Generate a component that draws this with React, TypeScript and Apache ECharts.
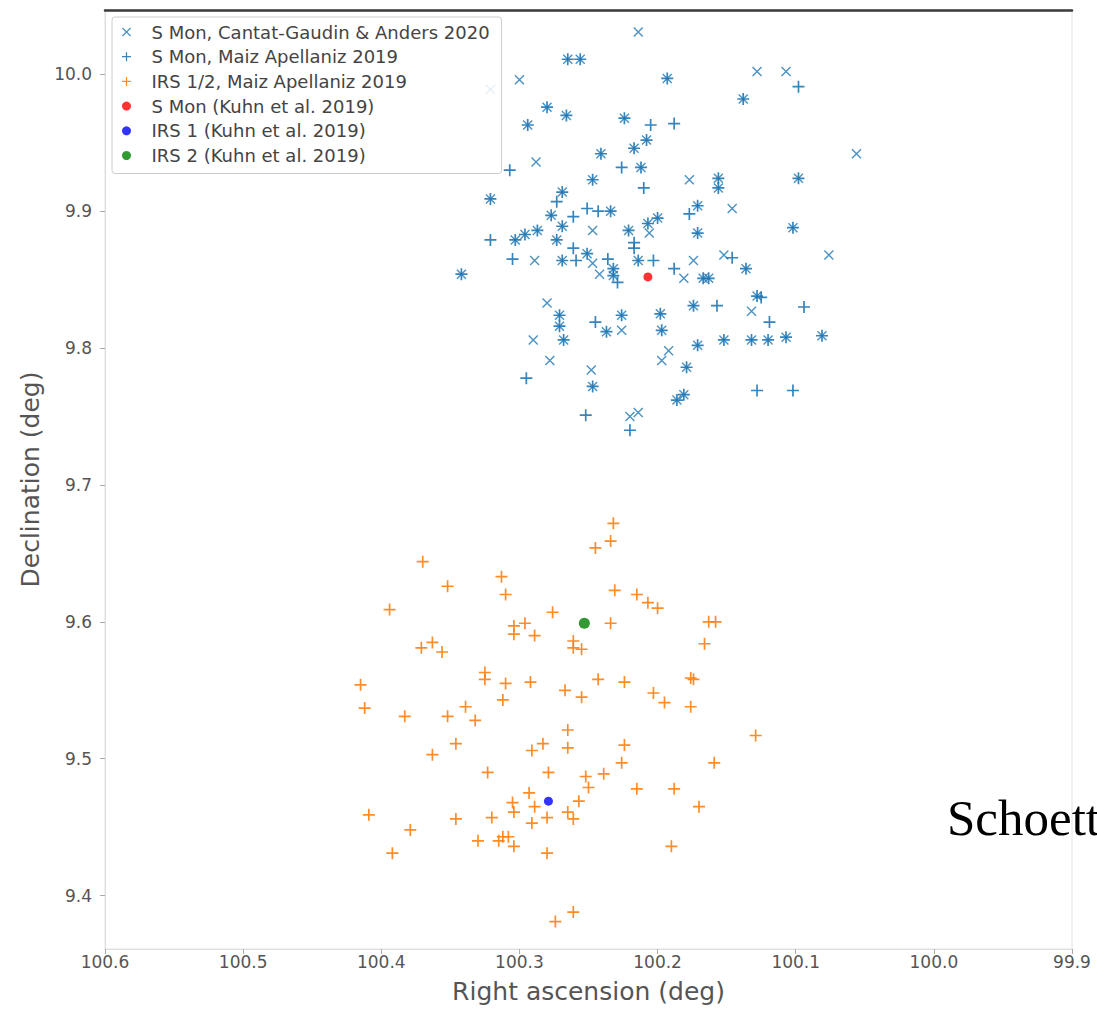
import React, { useEffect, useRef } from "react";
import * as echarts from "echarts";

const xTicks = [100.6, 100.5, 100.4, 100.3, 100.2, 100.1, 100.0, 99.9];
const yTicks = [9.4, 9.5, 9.6, 9.7, 9.8, 9.9, 10.0];

const seriesNames = [
  "S Mon, Cantat-Gaudin & Anders 2020",
  "S Mon, Maiz Apellaniz 2019",
  "IRS 1/2, Maiz Apellaniz 2019",
  "S Mon (Kuhn et al. 2019)",
  "IRS 1 (Kuhn et al. 2019)",
  "IRS 2 (Kuhn et al. 2019)",
];

const cantatGaudin: [number, number][] = [
  [100.214, 10.031], [100.265, 10.011], [100.256, 10.011], [100.3, 9.996], [100.321, 9.989],
  [100.193, 9.997], [100.128, 10.002], [100.107, 10.002], [100.138, 9.982], [100.28, 9.976],
  [100.266, 9.97], [100.294, 9.963], [100.224, 9.968], [100.217, 9.946], [100.208, 9.952],
  [100.241, 9.942], [100.056, 9.942], [100.288, 9.936], [100.212, 9.932], [100.247, 9.923],
  [100.321, 9.909], [100.269, 9.914], [100.177, 9.923], [100.156, 9.924], [100.156, 9.917],
  [100.098, 9.924], [100.146, 9.902], [100.171, 9.904], [100.102, 9.888], [100.171, 9.884],
  [100.234, 9.9], [100.277, 9.897], [100.269, 9.889], [100.247, 9.886], [100.207, 9.891],
  [100.2, 9.895], [100.206, 9.884], [100.221, 9.886], [100.303, 9.879], [100.296, 9.883],
  [100.287, 9.886], [100.273, 9.879], [100.289, 9.864], [100.269, 9.864], [100.251, 9.869],
  [100.247, 9.862], [100.214, 9.864], [100.342, 9.854], [100.242, 9.854], [100.232, 9.858],
  [100.232, 9.853], [100.181, 9.851], [100.28, 9.833], [100.271, 9.824], [100.271, 9.816],
  [100.237, 9.812], [100.226, 9.813], [100.226, 9.824], [100.29, 9.806], [100.268, 9.806],
  [100.198, 9.825], [100.197, 9.813], [100.197, 9.791], [100.192, 9.798], [100.278, 9.791],
  [100.248, 9.784], [100.247, 9.772], [100.179, 9.786], [100.186, 9.762], [100.181, 9.766],
  [100.22, 9.75], [100.214, 9.753], [100.076, 9.868], [100.174, 9.864], [100.152, 9.868],
  [100.136, 9.858], [100.167, 9.851], [100.163, 9.851], [100.128, 9.838], [100.132, 9.827],
  [100.174, 9.831], [100.152, 9.806], [100.132, 9.806], [100.12, 9.806], [100.107, 9.808],
  [100.081, 9.809], [100.171, 9.802],
];

const maizSMon: [number, number][] = [
  [100.265, 10.011], [100.256, 10.011], [100.193, 9.997], [100.098, 9.991], [100.138, 9.982],
  [100.28, 9.976], [100.266, 9.97], [100.294, 9.963], [100.224, 9.968], [100.205, 9.963],
  [100.188, 9.964], [100.217, 9.946], [100.208, 9.952], [100.241, 9.942], [100.226, 9.932],
  [100.212, 9.932], [100.307, 9.93], [100.247, 9.923], [100.21, 9.917], [100.321, 9.909],
  [100.269, 9.914], [100.273, 9.907], [100.156, 9.924], [100.156, 9.917], [100.098, 9.924],
  [100.171, 9.904], [100.177, 9.898], [100.102, 9.888], [100.171, 9.884], [100.251, 9.902],
  [100.243, 9.9], [100.234, 9.9], [100.277, 9.897], [100.269, 9.889], [100.261, 9.896],
  [100.207, 9.891], [100.2, 9.895], [100.221, 9.886], [100.321, 9.879], [100.303, 9.879],
  [100.296, 9.883], [100.287, 9.886], [100.273, 9.879], [100.261, 9.873], [100.217, 9.873],
  [100.217, 9.877], [100.305, 9.865], [100.269, 9.864], [100.259, 9.864], [100.251, 9.869],
  [100.236, 9.865], [100.214, 9.864], [100.203, 9.864], [100.342, 9.854], [100.232, 9.858],
  [100.232, 9.853], [100.229, 9.848], [100.188, 9.858], [100.271, 9.824], [100.271, 9.816],
  [100.245, 9.819], [100.237, 9.812], [100.226, 9.824], [100.268, 9.806], [100.198, 9.825],
  [100.197, 9.813], [100.247, 9.772], [100.295, 9.778], [100.179, 9.786], [100.186, 9.762],
  [100.181, 9.766], [100.252, 9.751], [100.22, 9.74], [100.146, 9.866], [100.136, 9.858],
  [100.167, 9.851], [100.163, 9.851], [100.128, 9.838], [100.125, 9.837], [100.094, 9.83],
  [100.174, 9.831], [100.157, 9.831], [100.119, 9.819], [100.152, 9.806], [100.132, 9.806],
  [100.12, 9.806], [100.107, 9.808], [100.081, 9.809], [100.171, 9.802], [100.128, 9.769],
  [100.102, 9.769],
];

const maizIRS: [number, number][] = [
  [100.232, 9.672], [100.234, 9.659], [100.245, 9.654], [100.37, 9.644], [100.313, 9.633],
  [100.352, 9.626], [100.31, 9.62], [100.231, 9.623], [100.215, 9.62], [100.207, 9.614],
  [100.2, 9.61], [100.394, 9.609], [100.276, 9.607], [100.304, 9.597], [100.296, 9.599],
  [100.304, 9.591], [100.289, 9.59], [100.234, 9.599], [100.163, 9.6], [100.158, 9.6],
  [100.261, 9.586], [100.255, 9.58], [100.261, 9.581], [100.363, 9.585], [100.371, 9.581],
  [100.356, 9.578], [100.166, 9.584], [100.325, 9.563], [100.325, 9.558], [100.31, 9.555],
  [100.292, 9.556], [100.267, 9.55], [100.255, 9.545], [100.243, 9.558], [100.224, 9.556],
  [100.176, 9.559], [100.174, 9.558], [100.203, 9.548], [100.195, 9.541], [100.176, 9.538],
  [100.415, 9.554], [100.412, 9.537], [100.383, 9.531], [100.352, 9.531], [100.339, 9.538],
  [100.332, 9.528], [100.312, 9.543], [100.265, 9.521], [100.129, 9.517], [100.224, 9.51],
  [100.346, 9.511], [100.283, 9.511], [100.291, 9.506], [100.265, 9.508], [100.363, 9.503],
  [100.226, 9.497], [100.159, 9.497], [100.323, 9.49], [100.279, 9.49], [100.252, 9.487],
  [100.239, 9.489], [100.25, 9.479], [100.215, 9.478], [100.188, 9.478], [100.293, 9.475],
  [100.305, 9.468], [100.289, 9.465], [100.257, 9.469], [100.17, 9.465], [100.304, 9.461],
  [100.32, 9.457], [100.28, 9.457], [100.265, 9.461], [100.261, 9.456], [100.409, 9.459],
  [100.346, 9.456], [100.291, 9.453], [100.379, 9.448], [100.312, 9.443], [100.308, 9.443],
  [100.315, 9.44], [100.33, 9.44], [100.304, 9.436], [100.392, 9.431], [100.28, 9.431],
  [100.19, 9.436], [100.261, 9.388], [100.274, 9.381],
];

const kuhnSMon: [number, number][] = [[100.207, 9.852]];
const kuhnIRS1: [number, number][] = [[100.279, 9.469]];
const kuhnIRS2: [number, number][] = [[100.253, 9.599]];

const PLUS = "path://M0,4.3H10V5.7H0Z M4.3,0H5.7V10H4.3Z";
const CROSS = "path://M0,1L1,0L10,9L9,10Z M9,0L10,1L1,10L0,9Z";

const FONT = "DejaVu Sans";

export default function App() {
  const ref = useRef<HTMLDivElement>(null);

  useEffect(() => {
    document.body.style.margin = "0";
    document.body.style.overflow = "hidden";
    const chart = echarts.init(ref.current!, null, { renderer: "svg" });
    const fmt = (v: number) => v.toFixed(1);
    chart.setOption({
      animation: false,
      backgroundColor: "#ffffff",
      grid: {
        left: 105,
        right: 25,
        top: 10,
        bottom: 54,
        show: true,
        borderColor: "#e2e2e2",
        borderWidth: 1,
      },
      xAxis: [
        {
          type: "value",
          min: 99.9,
          max: 100.6,
          inverse: true,
          name: "Right ascension (deg)",
          nameLocation: "middle",
          nameGap: 30,
          nameTextStyle: { fontFamily: FONT, fontSize: 25, color: "#555" },
          axisLine: { show: true, lineStyle: { color: "#dddddd" } },
          axisTick: { show: true, length: 5, customValues: xTicks, lineStyle: { color: "#aaa" } },
          axisLabel: {
            customValues: xTicks,
            formatter: fmt,
            fontFamily: FONT,
            fontSize: 17,
            color: "#555",
            margin: 4,
          },
          splitLine: { show: false },
        },
        {
          type: "value",
          position: "top",
          min: 99.9,
          max: 100.6,
          inverse: true,
          axisLine: { show: true, lineStyle: { color: "#3a3a3a", width: 2.5 } },
          axisTick: { show: false },
          axisLabel: { show: false },
          splitLine: { show: false },
        },
      ],
      yAxis: {
        type: "value",
        min: 9.361,
        max: 10.047,
        name: "Declination (deg)",
        nameLocation: "middle",
        nameGap: 60,
        nameTextStyle: { fontFamily: FONT, fontSize: 25, color: "#555" },
        axisLine: { show: true, lineStyle: { color: "#dddddd" } },
        axisTick: { show: true, length: 5, customValues: yTicks, lineStyle: { color: "#aaa" } },
        axisLabel: {
          customValues: yTicks,
          formatter: fmt,
          fontFamily: FONT,
          fontSize: 17,
          color: "#555",
          margin: 13,
        },
        splitLine: { show: false },
      },
      legend: {
        orient: "vertical",
        left: 112,
        top: 17,
        padding: [6, 12, 9, 10],
        itemWidth: 40,
        itemHeight: 9,
        itemGap: 6.7,
        borderColor: "#cccccc",
        borderWidth: 1,
        borderRadius: 3,
        backgroundColor: "rgba(255,255,255,0.85)",
        selectedMode: false,
        textStyle: { fontFamily: FONT, fontSize: 18, color: "#444", lineHeight: 15 },
        data: seriesNames,
      },
      series: [
        {
          name: seriesNames[0],
          type: "scatter",
          data: cantatGaudin,
          symbol: CROSS,
          symbolSize: 10,
          symbolKeepAspect: true,
          itemStyle: { color: "#1f77b4", opacity: 0.8 },
          silent: true,
        },
        {
          name: seriesNames[1],
          type: "scatter",
          data: maizSMon,
          symbol: PLUS,
          symbolSize: 12,
          symbolKeepAspect: true,
          itemStyle: { color: "#1f77b4", opacity: 0.9 },
          silent: true,
        },
        {
          name: seriesNames[2],
          type: "scatter",
          data: maizIRS,
          symbol: PLUS,
          symbolSize: 12,
          symbolKeepAspect: true,
          itemStyle: { color: "#ff7f0e", opacity: 0.9 },
          silent: true,
        },
        {
          name: seriesNames[3],
          type: "scatter",
          data: kuhnSMon,
          symbol: "circle",
          symbolSize: 9,
          itemStyle: { color: "#ff0000" },
          silent: true,
        },
        {
          name: seriesNames[4],
          type: "scatter",
          data: kuhnIRS1,
          symbol: "circle",
          symbolSize: 9,
          itemStyle: { color: "#0000ff" },
          silent: true,
        },
        {
          name: seriesNames[5],
          type: "scatter",
          data: kuhnIRS2,
          symbol: "circle",
          symbolSize: 11,
          itemStyle: { color: "#008000" },
          silent: true,
        },
      ],
      graphic: [
        {
          type: "text",
          left: 947,
          top: 792,
          silent: true,
          style: {
            text: "Schoett",
            fontFamily: "Liberation Serif",
            fontSize: 51,
            fill: "#000",
          },
        },
      ],
    });
    return () => chart.dispose();
  }, []);

  return (
    <div
      ref={ref}
      style={{ position: "absolute", left: 0, top: 0, width: 1097, height: 1009, overflow: "hidden" }}
    />
  );
}
